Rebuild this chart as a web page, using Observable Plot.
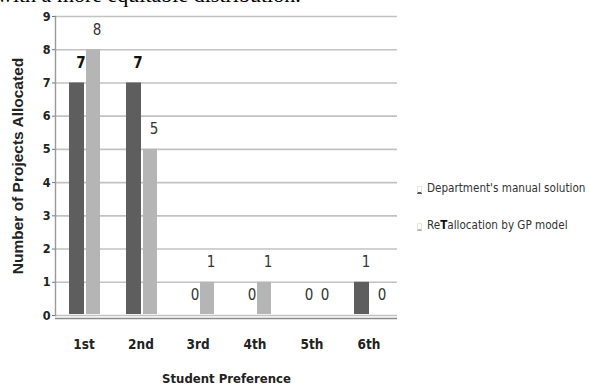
<!DOCTYPE html>
<html>
<head>
<meta charset="utf-8">
<script src="https://cdn.jsdelivr.net/npm/d3@7"></script>
<script src="https://cdn.jsdelivr.net/npm/@observablehq/plot@0.6"></script>
<style>
  html, body { margin: 0; padding: 0; background: #fff; }
  #wrap { position: relative; width: 590px; height: 392px; overflow: hidden; }
  #toptext { position: absolute; left: -3px; top: -18px; font-family: "Liberation Serif", "DejaVu Serif", serif; font-size: 22px; color: #000; white-space: nowrap; }
  .leg { position: absolute; left: 417px; font-family: "DejaVu Sans", sans-serif; font-stretch: condensed; font-size: 11.6px; color: #333; white-space: nowrap; }
  .sw { display: inline-block; width: 5px; height: 8px; margin-right: 5px; border: 1px solid #e6e6e6; border-bottom: 2px solid #555; box-sizing: border-box; vertical-align: -2px; }
  .sw.light { border-bottom-color: #b8b8b8; }
  svg text { font-stretch: condensed; }
</style>
</head>
<body>
<div id="wrap">
  <div id="chart"></div>
  <div id="toptext">with a more equitable distribution.</div>
  <div class="leg" style="top:181px"><span class="sw"></span>Department's manual solution</div>
  <div class="leg" style="top:218px"><span class="sw light"></span>Re<b style="color:#111">T</b>allocation by GP model</div>
</div>
<script>
const preferences = ["1st", "2nd", "3rd", "4th", "5th", "6th"];
const manualSolution = [7, 7, 0, 0, 0, 1];
const gpModel = [8, 5, 1, 1, 0, 0];
const yTicks = [0, 1, 2, 3, 4, 5, 6, 7, 8, 9];

const dark = preferences.map((p, i) => ({pref: p, value: manualSolution[i], i}));
const light = preferences.map((p, i) => ({pref: p, value: gpModel[i], i}));

const narrow = '"DejaVu Sans", sans-serif';

const plot = Plot.plot({
  width: 590,
  height: 392,
  marginLeft: 55,
  marginRight: 193,
  marginTop: 16,
  marginBottom: 77,
  style: {fontFamily: narrow, background: "transparent", overflow: "visible"},
  x: {domain: preferences, padding: 0, label: null, axis: null},
  y: {domain: [0, 9], ticks: yTicks, label: null, axis: null},
  marks: [
    Plot.gridY(yTicks, {stroke: "#c2c2c2", strokeOpacity: 1, strokeWidth: 1.6}),
    Plot.frame({anchor: "left", stroke: "#999", strokeWidth: 1.4}),
    Plot.barY(dark, {x: "pref", y: "value", fill: "#5e5e5e", insetLeft: 14, insetRight: 28, insetBottom: 1}),
    Plot.barY(light, {x: "pref", y: "value", fill: "#b5b5b5", insetLeft: 31, insetRight: 12, insetBottom: 1}),
    Plot.ruleY([0], {stroke: "#8a8a8a", strokeWidth: 1.6, dy: 3}),
    Plot.axisY({ticks: yTicks, tickSize: 3, tickPadding: 2, fontSize: 12.5, fontWeight: "bold", stroke: "#777", fill: "#222", label: null}),
    Plot.axisX({tickSize: 0, tickPadding: 24, fontSize: 13.5, fontWeight: "bold", fill: "#222", label: null}),
    Plot.text(dark.filter(d => d.value === 7), {x: "pref", y: "value", text: d => String(d.value), dx: -3, dy: -20, fontSize: 15, fontWeight: "bold", fill: "#111"}),
    Plot.text(dark.filter(d => d.value !== 7), {x: "pref", y: "value", text: d => String(d.value), dx: -3, dy: -20, fontSize: 15, fill: "#333"}),
    Plot.text(light, {x: "pref", y: "value", text: d => String(d.value), dx: 13, dy: -20, fontSize: 15, fill: "#333"}),
    Plot.text(["Student Preference"], {frameAnchor: "bottom", dy: 67, fontSize: 13, fontWeight: 600, fill: "#222"}),
    Plot.text(["Number of Projects Allocated"], {frameAnchor: "left", textAnchor: "middle", dx: -37, rotate: -90, fontSize: 15.5, fontWeight: "bold", fill: "#222", fontFamily: '"Liberation Sans", Arial, sans-serif'})
  ]
});
document.getElementById("chart").appendChild(plot);
</script>
</body>
</html>
